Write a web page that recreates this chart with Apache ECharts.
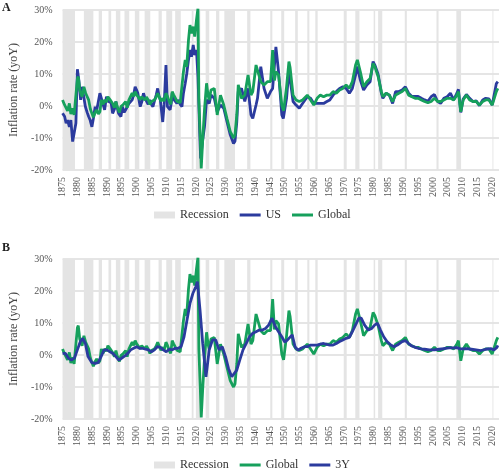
<!DOCTYPE html>
<html><head><meta charset="utf-8">
<script src="https://cdn.jsdelivr.net/npm/echarts@6/dist/echarts.min.js"></script>
<style>html,body{margin:0;padding:0;background:#fff}#c{width:500px;height:470px}</style>
</head><body><div id="c"></div>
<script>
// ---- data ----
const usYears = [1875,1875.7,1876.2,1876.7,1877.3,1877.8,1878.4,1878.9,1879.5,1880,1880.5,1881.1,1881.6,1882.2,1882.7,1883.3,1883.8,1884.3,1884.9,1885.4,1886,1886.5,1887.1,1887.6,1888.1,1888.7,1889.2,1889.8,1890.4,1890.9,1891.4,1891.9,1892.5,1893,1893.9,1894.7,1895.2,1895.8,1896.3,1896.9,1897.4,1898,1898.5,1899,1899.5,1900,1900.4,1901.2,1901.8,1902.3,1902.8,1903.3,1903.9,1904.4,1905,1905.5,1906,1906.6,1907.1,1907.6,1908,1908.8,1909.3,1909.9,1910.4,1911.3,1911.7,1912,1912.6,1913.1,1913.6,1914.2,1914.7,1915.3,1915.8,1916.4,1916.9,1917.5,1918,1918.5,1919.1,1919.6,1920.2,1920.7,1921.3,1921.6,1922.3,1922.9,1923.6,1924.5,1925.1,1926.2,1927.2,1928.3,1929.4,1930.5,1931.6,1932.7,1933.2,1933.8,1934.3,1935.4,1936.5,1937.6,1938.6,1939.2,1940.3,1940.8,1941.9,1943,1944.1,1945.2,1945.9,1947,1947.9,1949,1949.5,1950.6,1951.4,1952.8,1953.8,1954.9,1956,1957.6,1958.7,1959.8,1960.9,1962,1963.1,1964.2,1965.2,1966.3,1967.4,1968.5,1969.6,1970.7,1971.8,1972.8,1973.9,1974.5,1975.5,1976.6,1977.7,1978.8,1979.8,1980.4,1981.5,1982.6,1983.1,1984.2,1985.3,1986.4,1987.4,1988.5,1989.6,1990.7,1991.8,1992.9,1994,1995,1996.1,1997.2,1998.3,1999.4,2000.5,2001.6,2002.6,2003.7,2004.8,2005.9,2007,2008.1,2008.6,2009.4,2010.2,2011.3,2012.4,2013.5,2014.6,2015.7,2016.8,2017.8,2018.9,2020,2020.6,2021.4,2021.9];
const usValues = [-2.3,-3.3,-5.4,-4.4,-6.5,-4.4,-11.1,-8.5,-5.4,11.5,8.1,1.9,6,5.5,-0.2,-2,-3.3,-4.4,-6.5,-3.9,-0.2,-1.5,-1.2,4,2.4,2.9,-1.2,2.9,1.5,1.9,1,-2.3,-1,1.4,-2.3,-3.3,-0.2,-2,-1.2,-1.5,0.8,0.5,1.9,3.5,6,5,4,-0.2,1.5,4,2.5,1.9,0.5,1.9,0.5,-0.2,1.5,3.4,5.5,3,1.9,-5,0.5,12.8,-0.2,-1.2,1,4,2,1.9,0.8,1.9,0.5,-0.2,4,7.1,10,14.4,17.5,15.4,19.1,15.9,17.5,9.2,-8.5,-16.4,-10.6,-6.5,1.9,0.8,3.4,2.4,-1.8,0.3,-0.7,-4.9,-9,-11.7,-11,-5,4.5,5.5,1.4,5.5,-2.8,-3.9,0.3,2.4,12.3,5.5,2.4,4.5,5.5,18.5,10.7,-2.8,-3.9,2.4,11.2,1.4,0.3,-0.7,0.8,2.9,2.4,0.8,0.8,0.8,0.8,1.4,1.9,3.4,4.5,5.5,6,5.5,4,5.5,9.7,12.3,8.1,5,6.6,7.6,13.9,12.8,9.9,4,2.4,4,3.4,0.8,4.5,4.5,5,6,4,3,3,3,2.4,1.9,1.5,2.9,3.6,1.4,0.8,2.4,2.9,4,1.9,4,5.2,-2,2.2,3.6,2.4,1.4,1.6,0.1,1.9,2.4,2.2,0.3,0.8,7,7.6];

const globalYears = [1875,1875.6,1876.2,1876.7,1877.3,1877.8,1878.4,1878.9,1879.5,1880,1880.3,1880.8,1881.6,1882.2,1882.8,1883.8,1884.4,1884.9,1885.4,1886,1886.5,1887.1,1887.6,1888.1,1888.7,1889.2,1889.8,1890.3,1891,1891.9,1892.5,1893,1893.6,1894.2,1894.7,1895.5,1896.3,1896.8,1897.4,1898,1898.5,1899,1899.5,1900,1900.6,1901.2,1901.7,1902.3,1902.8,1903.3,1903.9,1904.5,1905,1905.5,1906,1906.6,1907.1,1907.7,1908.2,1908.8,1909.3,1909.9,1910.4,1911,1911.5,1912,1912.5,1913.1,1913.6,1914.2,1914.7,1915.3,1915.8,1916.4,1916.9,1917.5,1918,1918.5,1919.1,1919.6,1920.2,1920.7,1921,1921.5,1921.8,1922.3,1922.9,1923.6,1924.1,1924.5,1925.1,1926.2,1927.2,1928.3,1929.4,1930.5,1931.6,1932.7,1933.2,1933.8,1934.3,1935.4,1936.5,1937.6,1938.6,1939.2,1940.3,1940.8,1941.9,1943,1944.1,1945.2,1945.9,1946.5,1947,1947.9,1949,1949.6,1950.6,1951.4,1951.8,1952.8,1953.8,1954.9,1956,1957.6,1958.7,1959.8,1960.9,1962,1963.1,1964.2,1965.2,1966.3,1967.4,1968.5,1969.6,1970.7,1971.8,1972.8,1973.9,1974.5,1975.5,1976.6,1977.7,1978.8,1979.8,1980.4,1981.5,1982.6,1983.1,1984.2,1985.3,1986.4,1987.4,1988.5,1989.6,1990.7,1991.8,1992.9,1994,1995,1996.1,1997.2,1998.3,1999.4,2000.5,2001.6,2002.6,2003.7,2004.8,2005.9,2007,2008.1,2008.6,2009.4,2010.2,2011.3,2012.4,2013.5,2014.6,2015.7,2016.8,2017.8,2018.9,2020,2020.6,2021.4,2021.9];
const globalValues = [1.9,0.5,0.3,-1.5,0.8,-2.5,-0.7,-2.8,-2.3,8.5,9.2,5,2.9,6,4,1.9,-1,-2.3,-3.5,-2,-1.2,-2.5,-1.8,1.9,0.5,1.9,1.2,2.9,2,0.8,-0.5,1.4,-0.7,-2,-0.2,0.5,1.4,-0.5,1.9,2.5,4,3,4.5,3.5,4,2,2.9,3.5,1.9,2.8,1.9,0.5,1.4,0.8,1.9,2.8,4,3.4,1.5,2.4,1.5,4,3,1.4,0.5,4.5,3.5,2.9,1.5,1.9,1,1.4,10.7,14.4,12.3,20.6,25.3,22.7,24.8,21.7,26.9,30.5,1.9,-10.6,-19.5,-10.6,-1.2,7.1,3.4,1.9,5,5.5,-2.8,3.4,0.3,-3.9,-8,-10,-9,-2.8,6.6,2.4,3.4,9.7,3.4,4.5,12.8,13.3,7.6,6.6,7.6,7.6,17.5,8,10.7,9.7,0.3,-1.5,6,13.9,12,3.4,1.9,1.4,1.9,3.4,1.9,0.3,2.4,3.4,2.9,3.4,3.4,4.5,4,5,5.5,6.6,5.5,7.6,12.8,14.4,10.7,6,7.6,8.6,13.3,12.3,9.2,4.5,2.9,4,3.4,1.4,3.4,4,4.5,5.5,3.4,2.9,2.4,2.4,1.9,1.4,1,1.4,2.4,1.4,1.4,1.9,2.4,2.4,1.9,3.4,4.5,-1.8,1.9,3.4,1.9,1.4,1.4,0.3,1.4,1.9,1.9,0.3,0.3,4.5,5.5];

const y3Years = [1875,1876,1877,1878,1879,1880,1881,1881.8,1882.7,1883.6,1884.9,1886,1887,1888,1889,1890,1891,1892,1893,1894,1895,1896,1897,1898,1899,1900,1901,1902,1903,1904,1905,1906,1907,1908,1909,1910,1911,1912,1913,1914,1915,1916,1917,1918,1919,1920,1920.5,1921.4,1922.3,1923.4,1924.5,1925.6,1926.7,1927.8,1928.9,1930,1931,1932.1,1932.7,1933.8,1934.8,1935.9,1937,1938.1,1939.2,1940.3,1941.4,1942.4,1943.5,1944.6,1945.7,1946.3,1946.8,1947.9,1949,1950,1951,1952.5,1953.5,1954.5,1955.5,1956.6,1957.6,1958.7,1959.8,1960.9,1962,1963.1,1964.2,1965.2,1966.3,1967.4,1968.5,1969.6,1970.7,1971.8,1972.8,1973.9,1975,1975.8,1976.9,1978.2,1979.3,1980.4,1981.3,1982.3,1983.4,1984.5,1985.8,1986.9,1988,1989.6,1990.7,1991.8,1992.9,1994,1995,1996.1,1997.2,1998.8,2000.5,2002.1,2003.7,2005.4,2007,2008.1,2009.2,2010.2,2011.3,2013,2014.6,2016.2,2017.8,2019.5,2020.6,2021.6,2021.9];
const y3Values = [0.5,0.5,-1,-1.6,-1,1.6,4.2,5.2,3.6,-0.5,-2.4,-2.6,-2.4,-0.5,1.6,1.6,1,0.5,-0.5,-1.6,-1,-0.3,0.5,1.6,2.1,2.6,2.1,2.1,1.8,1.6,1,1.6,2.6,2.4,1.6,1,1.8,1.6,2.1,2.1,2.6,5.7,10.9,16.1,19.3,21.4,22.9,14,3.6,-6.8,1.6,4.7,4.7,1.6,2.6,-0.5,-4.2,-6.8,-7.3,-4.7,-1.6,1.6,3.6,5.7,6.8,7.3,7.8,7.8,8.3,9.4,11.5,12,8.9,7.3,5.7,4,4.8,6.3,2.5,1.5,2.1,2.6,2.6,3.1,3.1,3.1,3.4,3.6,3.3,3.1,3.1,3.6,4.2,4.7,5.2,5.5,7.3,9.4,11.5,11.5,9.4,7.8,8.3,9.4,9.9,7.8,5.7,4.2,3.1,2.6,3.1,4.2,4.5,3.6,2.8,2.4,2.1,1.9,1.8,1.6,1.6,1.8,2,2.2,2.2,2.3,1.9,1.9,2,1.8,1.6,1.4,1.8,2,1.6,2.4,3];

const recessionStarts = [1875,1882.2,1887.2,1890.5,1893.0,1895.9,1899.4,1902.7,1907.4,1910.0,1913.0,1918.6,1920.0,1923.3,1926.8,1929.6,1937.3,1945.1,1948.8,1953.5,1957.6,1960.3,1969.9,1973.8,1980.0,1981.5,1990.5,2001.2,2007.9,2020.1];
const recessionEnds   = [1879.2,1885.4,1888.3,1891.4,1894.5,1897.5,1900.9,1904.6,1908.5,1912.0,1914.9,1919.2,1921.5,1924.5,1927.9,1933.2,1938.4,1945.8,1949.8,1954.4,1958.3,1961.1,1970.9,1975.2,1980.5,1982.9,1991.2,2001.9,2009.5,2020.4];

const yTickMin = -20, yTickMax = 30, yTickStep = 10;
const xTickMin = 1875, xTickStep = 5;

// ---- chart ----
function pairs(xs, ys) { return xs.map((x, i) => [x, ys[i]]); }
const bands = recessionStarts.map((s, i) => [{ xAxis: s }, { xAxis: recessionEnds[i] }]);
const FONT = '"Liberation Serif", "DejaVu Serif", serif';
const BLUE = '#2b3b9e', GREEN = '#16a05c', GREY = '#e4e4e4';
const LINE_ICON = 'path://M0,0H21V3H0Z';

function xAx(gi) {
  return { type: 'value', gridIndex: gi, min: xTickMin, max: 2022.3, interval: xTickStep,
    axisLine: { show: false }, axisTick: { show: false }, splitLine: { show: false },
    axisLabel: { rotate: 90, fontSize: 10, color: '#555', fontFamily: FONT, margin: 7, showMaxLabel: false,
      formatter: v => (v % 5 === 0 ? String(v) : '') } };
}
function yAx(gi) {
  return { type: 'value', gridIndex: gi, min: yTickMin, max: yTickMax, interval: yTickStep,
    name: 'Inflation rate (yoY)', nameLocation: 'middle', nameGap: 38,
    nameTextStyle: { fontSize: 12, color: '#444', fontFamily: FONT },
    axisLine: { show: false }, axisTick: { show: false },
    axisLabel: { formatter: '{value}%', fontSize: 10, color: '#555', fontFamily: FONT, margin: 10 },
    splitLine: { lineStyle: { color: '#dcdcdc', width: 1.5 } } };
}
function recession(gi) {
  return { name: 'Recession', type: 'line', xAxisIndex: gi, yAxisIndex: gi, data: [], color: GREY,
    symbol: 'none', z: 1, silent: true,
    markArea: { silent: true, itemStyle: { color: GREY }, data: bands } };
}
function line(name, gi, xs, ys, color, z) {
  return { name, type: 'line', xAxisIndex: gi, yAxisIndex: gi, data: pairs(xs, ys), color,
    symbol: 'none', showSymbol: false, lineStyle: { width: 2.8, color }, z, animation: false };
}
function legend(top, names) {
  return { top, left: 149, itemWidth: 21, itemHeight: 7, itemGap: 11, symbolKeepAspect: true,
    textStyle: { fontSize: 12, color: '#333', fontFamily: FONT },
    data: [{ name: 'Recession', icon: 'rect' }].concat(names.map(n => ({ name: n, icon: LINE_ICON }))) };
}

const chart = echarts.init(document.getElementById('c'), null, { renderer: 'canvas' });
chart.setOption({
  animation: false,
  backgroundColor: '#fff',
  grid: [
    { left: 48, right: 1, top: 10, height: 160 },
    { left: 48, right: 1, top: 259, height: 160 }
  ],
  xAxis: [xAx(0), xAx(1)],
  yAxis: [yAx(0), yAx(1)],
  legend: [legend(204, ['US', 'Global']), legend(454, ['Global', '3Y'])],
  graphic: [
    { type: 'text', left: 2, top: 2, style: { text: 'A', font: 'bold 12px ' + FONT, fill: '#222' } },
    { type: 'text', left: 2, top: 242, style: { text: 'B', font: 'bold 12px ' + FONT, fill: '#222' } }
  ],
  series: [
    recession(0),
    line('US', 0, usYears, usValues, BLUE, 3),
    line('Global', 0, globalYears, globalValues, GREEN, 4),
    recession(1),
    line('Global', 1, globalYears, globalValues, GREEN, 3),
    line('3Y', 1, y3Years, y3Values, BLUE, 4)
  ]
});
</script></body></html>
